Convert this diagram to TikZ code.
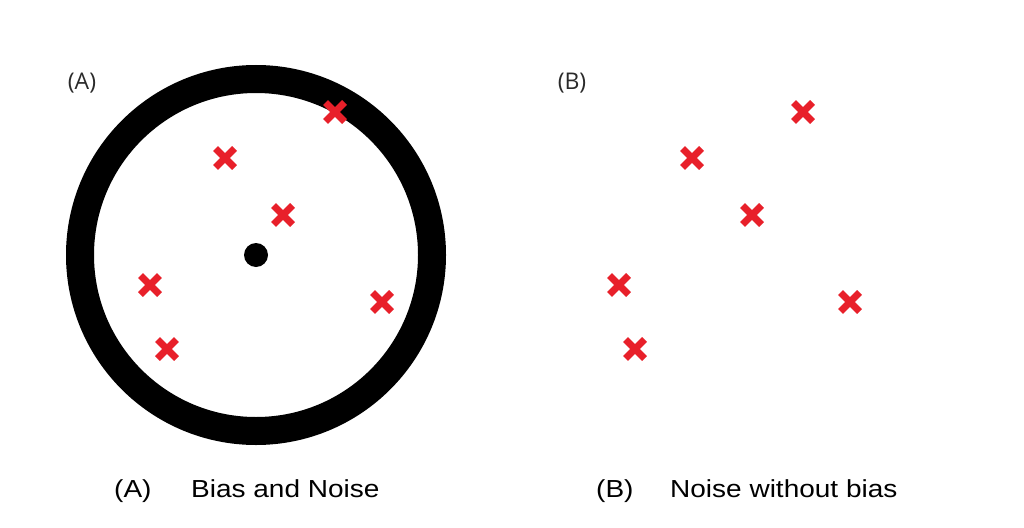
\documentclass[tikz,border=0pt]{standalone}
\usepackage{fontspec}
\setmainfont{Liberation Sans}
\newfontfamily\labfont{Open Sans}
\definecolor{xred}{HTML}{E8202A}
\definecolor{labgray}{HTML}{2A2A2A}
\tikzset{
  xmark/.pic={\draw[xred,line width=7pt] (-9.5,-9.5) -- (9.5,9.5) (-9.5,9.5) -- (9.5,-9.5);},
  caption/.style={anchor=base west,inner sep=0pt,font=\fontsize{28}{30}\selectfont},
  panellabel/.style={inner sep=0pt,text=labgray,font=\labfont\fontsize{23}{25}\selectfont}
}
\begin{document}
\begin{tikzpicture}[x=1pt,y=-1pt]
\useasboundingbox[fill=white] (0,0) rectangle (1024,527);
% panel A
\draw[line width=28pt] (256,255) circle[radius=176];
\fill (256,255) circle[radius=12];
\node[panellabel] (la) at (82,83) {(A)};
\pic at (335,112) {xmark};
\pic at (225,158) {xmark};
\pic at (283,215) {xmark};
\pic at (150,285) {xmark};
\pic at (382,302) {xmark};
\pic at (167,349) {xmark};
% panel B
\node[panellabel] (lb) at (572,83) {(B)};
\pic at (803,112) {xmark};
\pic at (692,158) {xmark};
\pic at (752,215) {xmark};
\pic at (619,285) {xmark};
\pic at (850,302) {xmark};
\pic at (635,349) {xmark};
% captions
\node[caption] (ca) at (114,497) {\scalebox{1}[0.88]{(A)}};
\node[caption] (cat) at (191,497) {\scalebox{1}[0.88]{Bias and Noise}};
\node[caption] (cb) at (596,497) {\scalebox{1}[0.88]{(B)}};
\node[caption] (cbt) at (670,497) {\scalebox{1}[0.88]{Noise without bias}};
\end{tikzpicture}
\end{document}
